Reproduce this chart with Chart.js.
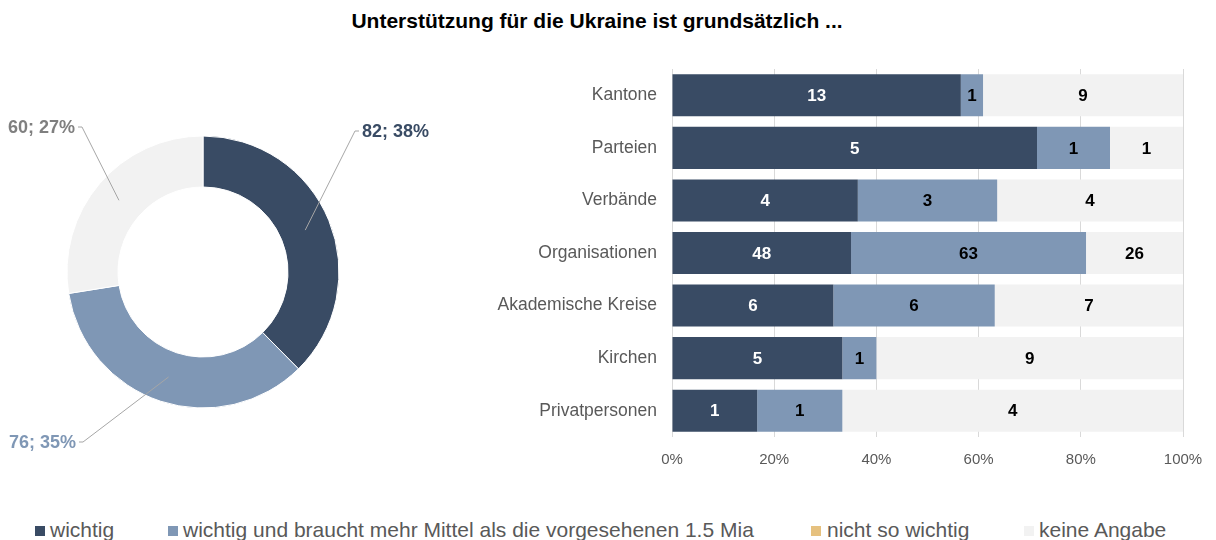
<!DOCTYPE html>
<html>
<head>
<meta charset="utf-8">
<script src="https://cdn.jsdelivr.net/npm/chart.js@4.4.1/dist/chart.umd.min.js"></script>
<style>
  html, body { margin:0; padding:0; background:#fff; }
  body { width:1216px; height:540px; overflow:hidden; position:relative; font-family:"Liberation Sans", Arial, sans-serif; }
  #title { position:absolute; left:0; top:9px; width:1194px; text-align:center; font-weight:bold; font-size:21px; line-height:24px; color:#000; }
  #donutWrap { position:absolute; left:0; top:60px; width:460px; height:424px; }
  #barWrap { position:absolute; left:480px; top:57px; width:723px; height:420px; }
  .leg { position:absolute; top:520px; font-size:21px; line-height:20px; color:#595959; white-space:nowrap; }
  .mk { position:absolute; top:526px; width:10px; height:10px; }
</style>
</head>
<body>
<div id="title">Unterstützung für die Ukraine ist grundsätzlich ...</div>
<div id="donutWrap"><canvas id="donut"></canvas></div>
<div id="barWrap"><canvas id="bar"></canvas></div>
<div id="legend"></div>
<script>
// ---- data ----
const categories = ['Kantone','Parteien','Verbände','Organisationen','Akademische Kreise','Kirchen','Privatpersonen'];
const seriesNames = ['wichtig','wichtig und braucht mehr Mittel als die vorgesehenen 1.5 Mia','nicht so wichtig','keine Angabe'];
const wichtig        = [13, 5, 4, 48, 6, 5, 1];
const mehrMittel     = [1, 1, 3, 63, 6, 1, 1];
const nichtSoWichtig = [0, 0, 0, 0, 0, 0, 0];
const keineAngabe    = [9, 1, 4, 26, 7, 9, 4];
const donutValues    = [82, 76, 0, 60];
const donutPercent   = ['38%', '35%', '0%', '27%'];
const xTickValues    = [0, 20, 40, 60, 80, 100];

// ---- styles ----
const colors = ['#394B64', '#7F97B5', '#E6C17F', '#F2F2F2'];
const labelColors = ['#FFFFFF', '#000000', '#000000', '#000000'];
const donutLabelColors = ['#394B64', '#7F97B5', '#E6C17F', '#7F7F7F'];

// legend (HTML)
const legendPos = [[35,50],[168,183],[811,827],[1024,1039]];
const legendEl = document.getElementById('legend');
seriesNames.forEach((n,i)=>{
  const m = document.createElement('div'); m.className='mk';
  m.style.left = legendPos[i][0]+'px'; m.style.background = colors[i];
  const t = document.createElement('div'); t.className='leg';
  t.style.left = legendPos[i][1]+'px'; t.textContent = n;
  legendEl.appendChild(m); legendEl.appendChild(t);
});

// ---- donut ----
const donutLabelPlacement = [
  {dx: 159, dy: -141, align: 'left'},
  {dx: -127, dy: 170, align: 'right'},
  null,
  {dx: -128, dy: -145, align: 'right'}
];
const donutLabelPlugin = {
  id: 'donutLabels',
  afterDatasetsDraw(chart) {
    const ctx = chart.ctx;
    const meta = chart.getDatasetMeta(0);
    ctx.save();
    ctx.font = 'bold 18px "Liberation Sans", Arial, sans-serif';
    ctx.textBaseline = 'middle';
    meta.data.forEach((arc, i) => {
      const v = donutValues[i];
      const p = donutLabelPlacement[i];
      if (!v || !p) return;
      const {x, y, startAngle, endAngle, innerRadius, outerRadius} = arc.getProps(['x','y','startAngle','endAngle','innerRadius','outerRadius'], true);
      const mid = (startAngle + endAngle) / 2;
      const r = (innerRadius + outerRadius) / 2;
      const px = x + Math.cos(mid) * r, py = y + Math.sin(mid) * r;
      const lx = x + p.dx, ly = y + p.dy;
      const ex = p.align === 'left' ? lx - 3 : lx + 3;
      const ex2 = p.align === 'left' ? ex - 4 : ex + 4;
      ctx.strokeStyle = '#A6A6A6'; ctx.lineWidth = 1;
      ctx.beginPath(); ctx.moveTo(ex, ly); ctx.lineTo(ex2, ly); ctx.lineTo(px, py); ctx.stroke();
      ctx.fillStyle = donutLabelColors[i];
      ctx.textAlign = p.align;
      ctx.fillText(v + '; ' + donutPercent[i], lx, ly + 1);
    });
    ctx.restore();
  }
};
new Chart(document.getElementById('donut'), {
  type: 'doughnut',
  data: {
    labels: seriesNames,
    datasets: [{ data: donutValues, backgroundColor: colors, borderColor: '#FFFFFF', borderWidth: 1 }]
  },
  options: {
    responsive: true, maintainAspectRatio: false, animation: false,
    radius: 136, cutout: '62.5%',
    layout: { padding: { left: 0, right: 54, top: 0, bottom: 0 } },
    plugins: { legend: { display: false }, tooltip: { enabled: false } }
  },
  plugins: [donutLabelPlugin]
});

// ---- bar ----
const seriesCounts = [wichtig, mehrMittel, nichtSoWichtig, keineAngabe];
const totals = categories.map((c, i) => seriesCounts.reduce((s, arr) => s + arr[i], 0));
const barLabelPlugin = {
  id: 'barLabels',
  afterDatasetsDraw(chart) {
    const ctx = chart.ctx;
    ctx.save();
    ctx.font = 'bold 17px "Liberation Sans", Arial, sans-serif';
    ctx.textAlign = 'center'; ctx.textBaseline = 'middle';
    chart.data.datasets.forEach((ds, di) => {
      const meta = chart.getDatasetMeta(di);
      meta.data.forEach((el, i) => {
        const v = seriesCounts[di][i];
        if (!v) return;
        const {x, y, base} = el.getProps(['x','y','base'], true);
        ctx.fillStyle = labelColors[di];
        ctx.fillText(String(v), (x + base) / 2, y + 1);
      });
    });
    ctx.restore();
  }
};
new Chart(document.getElementById('bar'), {
  type: 'bar',
  data: {
    labels: categories,
    datasets: seriesCounts.map((arr, di) => ({
      label: seriesNames[di],
      data: arr.map((v, i) => v / totals[i] * 100),
      backgroundColor: colors[di],
      borderWidth: 0,
      categoryPercentage: 1.0,
      barPercentage: 0.8
    }))
  },
  options: {
    indexAxis: 'y',
    responsive: true, maintainAspectRatio: false, animation: false,
    layout: { padding: { left: 0, right: 20, top: 12, bottom: 0 } },
    scales: {
      x: {
        stacked: true, min: 0, max: 100,
        afterBuildTicks: (s) => { s.ticks = xTickValues.map(v => ({value: v})); },
        afterFit: (s) => { s.height = 40; s.paddingLeft = 0; s.paddingRight = 0; },
        grid: { color: '#D9D9D9', drawTicks: false },
        border: { display: false },
        ticks: { callback: v => v + '%', color: '#595959', padding: 14, font: { size: 15, family: '"Liberation Sans", Arial, sans-serif' } }
      },
      y: {
        stacked: true,
        afterFit: (s) => { s.width = 192; s.paddingTop = 0; s.paddingBottom = 0; },
        grid: { display: false, drawTicks: false },
        border: { display: false },
        ticks: { color: '#595959', padding: 15, font: { size: 17.5, family: '"Liberation Sans", Arial, sans-serif' } }
      }
    },
    plugins: { legend: { display: false }, tooltip: { enabled: false } }
  },
  plugins: [barLabelPlugin]
});
</script>
</body>
</html>
